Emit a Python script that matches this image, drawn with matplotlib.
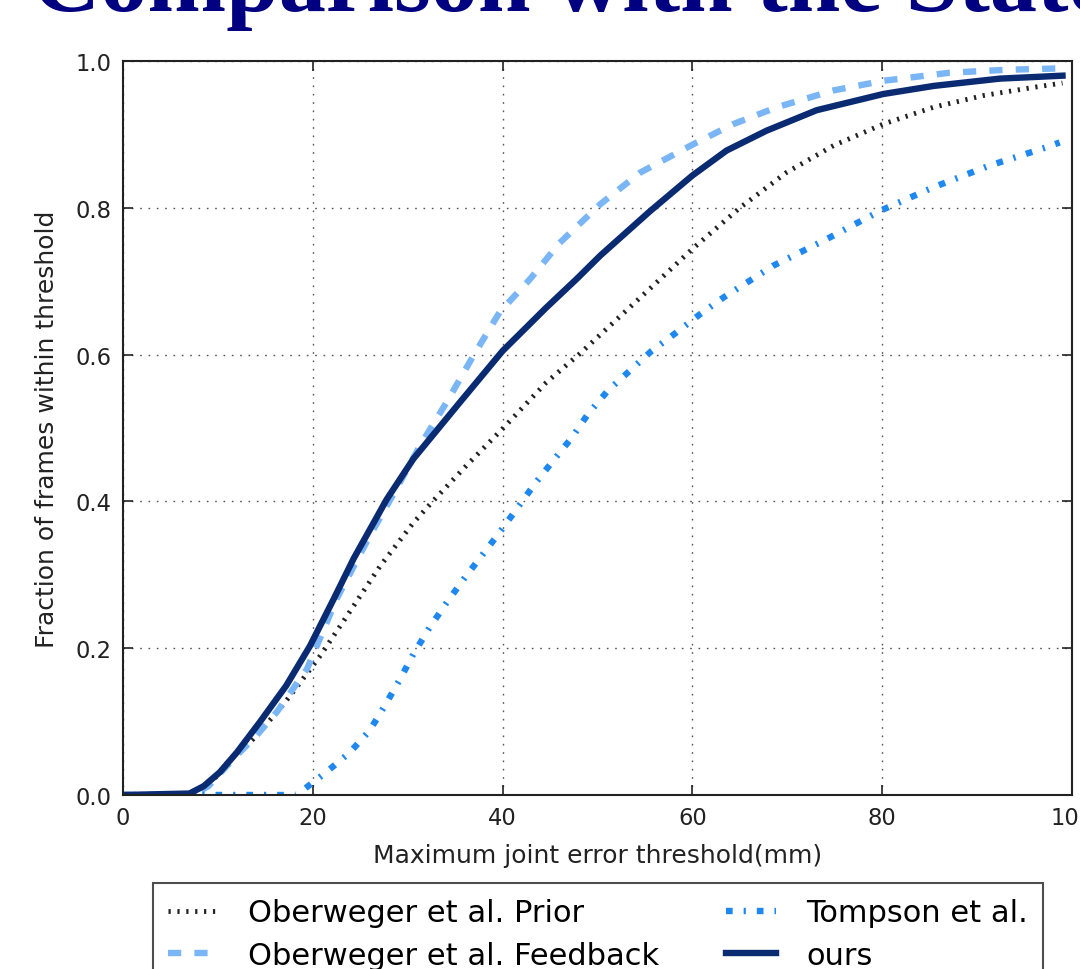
import numpy as np
import matplotlib
matplotlib.use("Agg")
import matplotlib.pyplot as plt

# curves: threshold (mm) -> fraction of frames
prior_x = [0, 7.5, 9, 11.3, 13.7, 16.5, 17.9, 20.8, 23.6, 27.1, 30.6, 32.7, 36.2,
           40, 44.6, 48.2, 51.7, 56.2, 60, 65, 69.9, 74.9, 80.1, 85.4, 90.7, 95.9, 99]
prior_y = [0, 0.001, 0.012, 0.049, 0.076, 0.117, 0.140, 0.190, 0.244, 0.312, 0.371,
           0.401, 0.449, 0.499, 0.562, 0.602, 0.644, 0.698, 0.744, 0.800, 0.848,
           0.885, 0.914, 0.937, 0.953, 0.964, 0.970]

feedback_x = [0, 7.5, 9, 11.6, 14, 16.2, 19.4, 22.5, 26, 28.8, 31.3, 34.1, 36.9,
              39.7, 42.9, 46, 50.3, 54.5, 60, 64.3, 68.9, 74.9, 80.1, 87.1, 93, 99]
feedback_y = [0, 0.001, 0.012, 0.049, 0.080, 0.113, 0.172, 0.267, 0.353, 0.417,
              0.476, 0.535, 0.598, 0.658, 0.703, 0.752, 0.805, 0.848, 0.886, 0.914,
              0.937, 0.960, 0.973, 0.984, 0.988, 0.990]

tompson_x = [0, 18.3, 19.1, 21.5, 23.9, 26.0, 27.6, 29.2, 30.6, 32.3, 34.1, 35.9,
             37.8, 39.7, 41.5, 43.4, 45.3, 47.3, 49.0, 51.1, 53.4, 55.7, 58.3, 60.8,
             63.3, 68.5, 74.1, 79.8, 85.4, 91.2, 97.2, 98.7]
tompson_y = [0, 0, 0.008, 0.032, 0.058, 0.088, 0.122, 0.158, 0.192, 0.228, 0.262,
             0.294, 0.326, 0.358, 0.390, 0.424, 0.455, 0.487, 0.519, 0.551, 0.578,
             0.605, 0.630, 0.655, 0.678, 0.721, 0.757, 0.796, 0.828, 0.857, 0.882,
             0.889]

ours_x = [0, 7, 8.5, 10.2, 12, 14.4, 17.2, 19.7, 22.2, 24.3, 27.8, 30.6, 35.5, 40,
          44.6, 47.8, 50.3, 55.5, 60, 63.6, 67.8, 73.1, 80.1, 85.4, 92.4, 99]
ours_y = [0, 0.002, 0.012, 0.031, 0.058, 0.099, 0.149, 0.203, 0.267, 0.322, 0.403,
          0.458, 0.535, 0.605, 0.664, 0.703, 0.735, 0.795, 0.844, 0.878, 0.905,
          0.933, 0.955, 0.966, 0.976, 0.980]

labels = ["Oberweger et al. Prior", "Oberweger et al. Feedback",
          "Tompson et al.", "ours"]

plt.rcParams["lines.scale_dashes"] = False

fig = plt.figure(figsize=(10.8, 9.7), dpi=100, facecolor="white")
ax = fig.add_axes([123 / 1080, 1 - 796 / 970, 949 / 1080, 734 / 970])

# slide title, cut off by the top of the screenshot
fig.text(32 / 1080, 1 - 11 / 970, "Comparison with the State-of-the-art",
         fontsize=68, family="Liberation Serif", weight="bold",
         color="#000080", va="baseline", ha="left")

ax.plot(prior_x, prior_y, color="#222222", lw=3.5, dashes=(1.6, 4.8),
        label=labels[0])
ax.plot(feedback_x, feedback_y, color="#7ab6f6", lw=4.6, dashes=(9.5, 9.5),
        label=labels[1])
ax.plot(tompson_x, tompson_y, color="#1e88f0", lw=4.6, dashes=(4.8, 7.9, 1.6, 7.9),
        label=labels[2])
ax.plot(ours_x, ours_y, color="#0a2b72", lw=4.6, label=labels[3])

ax.set_xlim(0, 100)
ax.set_ylim(0, 1.0)
ax.set_xticks([0, 20, 40, 60, 80, 100])
ax.set_yticks([0.0, 0.2, 0.4, 0.6, 0.8, 1.0])
ax.set_yticklabels(["0.0", "0.2", "0.4", "0.6", "0.8", "1.0"])
ax.tick_params(direction="in", length=7, width=1.2, top=True, right=True,
               labelsize=16.3, pad=8, colors="#222222")
ax.grid(True, color="#555555", lw=1.0, dashes=(1.2, 4.8))
for s in ax.spines.values():
    s.set_linewidth(1.5)
    s.set_color("#222222")

ax.set_xlabel("Maximum joint error threshold(mm)", fontsize=18, labelpad=10,
              color="#222222")
ax.set_ylabel("Fraction of frames within threshold", fontsize=18, labelpad=12,
              color="#222222")

leg = ax.legend(loc="upper center", bbox_to_anchor=(0.5005, -0.1199), ncol=2,
                fontsize=22, frameon=True, fancybox=False, handlelength=1.63,
                columnspacing=2.2, borderpad=0.5, labelspacing=0.44,
                handletextpad=0.98, borderaxespad=0)
leg.get_frame().set_edgecolor("#222222")
leg.get_frame().set_linewidth(1.5)

plt.savefig("out.png", dpi=100, facecolor="white")
